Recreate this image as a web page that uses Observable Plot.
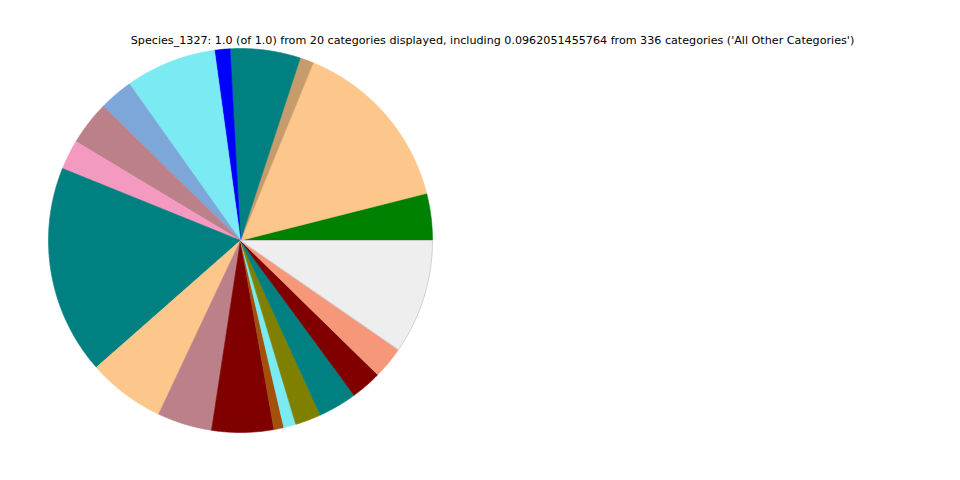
<!DOCTYPE html>
<html>
<head>
<meta charset="utf-8">
<script src="https://cdn.jsdelivr.net/npm/d3@7"></script>
<script src="https://cdn.jsdelivr.net/npm/@observablehq/plot@0.6"></script>
<style>
  html, body { margin: 0; padding: 0; background: #fff; }
  #wrap { position: relative; width: 960px; height: 480px; }
  #title { position: absolute; top: 34px; left: 0; width: 985px; text-align: center;
           font-family: "DejaVu Sans", sans-serif; font-size: 11.15px; color: #000; white-space: nowrap; }
  #chart { position: absolute; top: 0; left: 0; }
</style>
</head>
<body>
<div id="wrap">
  <div id="chart"></div>
  <div id="title">Species_1327: 1.0 (of 1.0) from 20 categories displayed, including 0.0962051455764 from 336 categories ('All Other Categories')</div>
</div>
<script>
const categories = ["Category 1","Category 2","Category 3","Category 4","Category 5","Category 6","Category 7","Category 8","Category 9","Category 10",
  "Category 11","Category 12","Category 13","Category 14","Category 15","Category 16","Category 17","Category 18","Category 19","All Other Categories"];
const values = [0.0395,0.1486,0.0115,0.059,0.013,0.0765,0.0286,0.037,0.025,0.176,
  0.065,0.046,0.052,0.0083,0.0103,0.0217,0.0325,0.026,0.027,0.0962051455764];
const colors = ["#008000","#fdc68a","#c69c6d","#008080","#0000ff","#7aebf3","#7da7d9","#bc8089","#f49ac1","#008080",
  "#fdc68a","#bc8089","#800000","#a3500b","#7aebf3","#808000","#008080","#800000","#f7977a","#eeeeee"];

const total = d3.sum(values);
const pts = [];
let cum = 0;
categories.forEach((c, i) => {
  const a0 = 2 * Math.PI * cum / total;
  cum += values[i];
  const a1 = 2 * Math.PI * cum / total;
  const n = Math.max(2, Math.ceil((a1 - a0) / (Math.PI / 360)));
  pts.push({key: c, color: colors[i], x: 0, y: 0});
  for (let k = 0; k <= n; k++) {
    const a = a0 + (a1 - a0) * k / n;
    pts.push({key: c, color: colors[i], x: Math.cos(a), y: Math.sin(a)});
  }
  pts.push({key: c, color: colors[i], x: 0, y: 0});
});

const plot = Plot.plot({
  width: 960,
  height: 480,
  marginLeft: 48,
  marginRight: 528,
  marginTop: 48,
  marginBottom: 48,
  x: {domain: [-1, 1], axis: null},
  y: {domain: [-1, 1], axis: null},
  color: {type: "identity"},
  marks: [
    Plot.line(pts, {x: "x", y: "y", z: "key", fill: "color", stroke: "color", strokeWidth: 0.6, curve: "linear"}),
    Plot.line(pts.filter(d => d.key === "All Other Categories"), {x: "x", y: "y", stroke: "#c8c8c8", strokeWidth: 0.8})
  ]
});
document.getElementById("chart").appendChild(plot);
</script>
</body>
</html>
